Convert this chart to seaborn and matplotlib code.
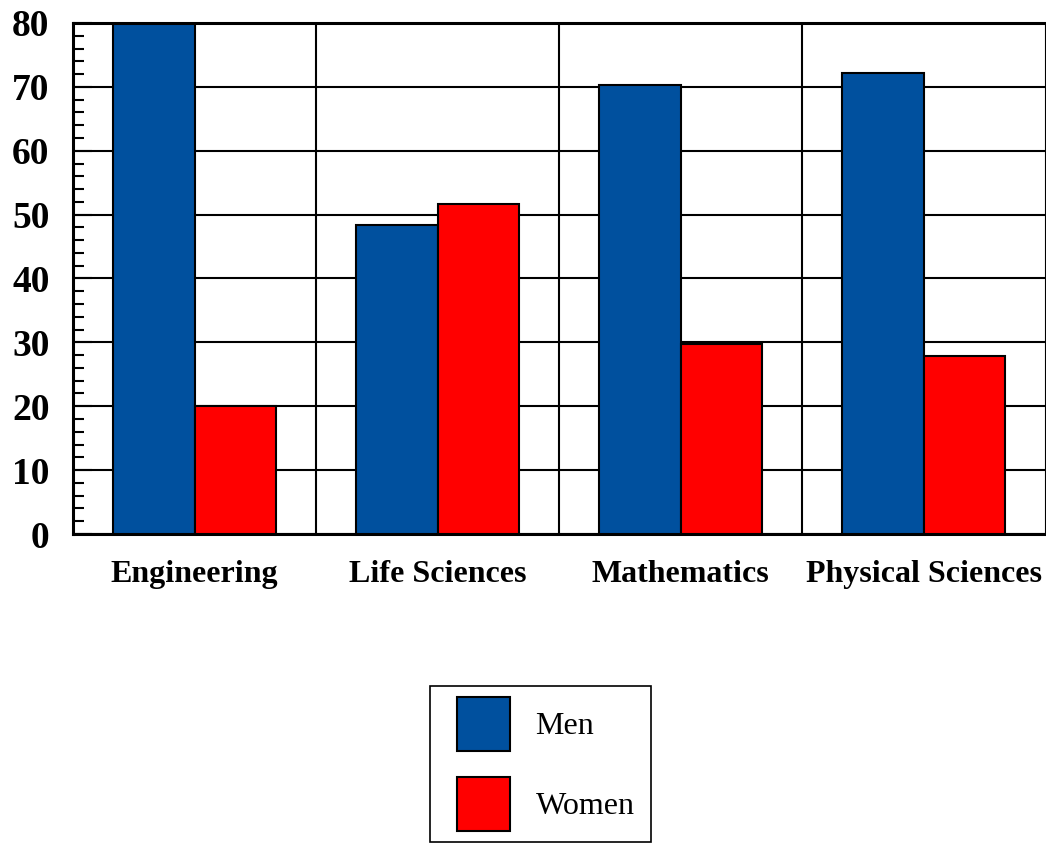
import matplotlib
matplotlib.use("Agg")
import matplotlib.pyplot as plt
import seaborn as sns
import pandas as pd
from matplotlib.patches import Patch, Rectangle
from matplotlib.legend_handler import HandlerPatch
from matplotlib.ticker import MultipleLocator, FixedLocator

# Share of degrees (%) by field and gender
fields = ["Engineering", "Life Sciences", "Mathematics", "Physical Sciences"]
men = [79.8, 48.4, 70.3, 72.2]
women = [20.1, 51.6, 29.7, 27.8]
groups = ["Men", "Women"]
colors = ["#00509e", "#ff0000"]
y_ticks = [0, 10, 20, 30, 40, 50, 60, 70, 80]

df = pd.DataFrame({
    "Field": fields * 2,
    "Share": men + women,
    "Gender": [groups[0]] * len(fields) + [groups[1]] * len(fields),
})

sns.set_style("white")
plt.rcParams["font.family"] = ["Liberation Serif", "DejaVu Serif"]
plt.rcParams["text.color"] = "black"
plt.rcParams["xtick.color"] = "black"
plt.rcParams["ytick.color"] = "black"
plt.rcParams["axes.labelcolor"] = "black"

fig = plt.figure(figsize=(10.46, 8.46), dpi=100)
ax = fig.add_axes([73 / 1046, 1 - 534 / 846, 972 / 1046, 511 / 846])

sns.barplot(data=df, x="Field", y="Share", hue="Gender", order=fields,
            hue_order=groups, palette=colors, saturation=1, width=0.67,
            errorbar=None, edgecolor="black", linewidth=1.5, legend=False,
            ax=ax, zorder=3)

ax.set_ylim(0, 80)
ax.set_xlim(-0.5, len(fields) - 0.5)
ax.set_xlabel("")
ax.set_ylabel("")

# y axis: majors every 10, minors every 2, ticks pointing inward
ax.yaxis.set_major_locator(FixedLocator(y_ticks))
ax.yaxis.set_minor_locator(MultipleLocator(2))
ax.set_yticklabels([str(v) for v in y_ticks], fontsize=27, fontweight="bold",
                   color="black")
ax.tick_params(axis="y", which="major", direction="in", length=14, width=1.5,
               pad=17, left=True, color="black")
ax.tick_params(axis="y", which="minor", direction="in", length=8, width=1.5,
               left=True, color="black")

# x axis: category labels, separators between categories
ax.xaxis.set_minor_locator(FixedLocator([0.5, 1.5, 2.5]))
ax.tick_params(axis="x", which="both", length=0, pad=19)
for lbl in ax.get_xticklabels():
    lbl.set_fontsize(23)
    lbl.set_fontweight("bold")
    lbl.set_color("black")

ax.grid(axis="y", which="major", color="black", linewidth=1.5, zorder=0)
ax.grid(axis="x", which="minor", color="black", linewidth=1.5, zorder=0)
ax.grid(axis="y", which="minor", visible=False)
ax.set_axisbelow(True)

for side in ["left", "top", "bottom"]:
    ax.spines[side].set_visible(True)
    ax.spines[side].set_color("black")
    ax.spines[side].set_linewidth(2.2)
ax.spines["right"].set_visible(True)
ax.spines["right"].set_color("black")
ax.spines["right"].set_linewidth(0.8)


def square_patch(legend, orig_handle, xdescent, ydescent, width, height, fontsize):
    # square swatch at the right of the handle box, nudged down to the text
    side = height + ydescent
    shift = 4.0
    return Rectangle((-xdescent + width - side, -ydescent - shift), side, side)


handles = [Patch(facecolor=c, edgecolor="black", linewidth=1.5) for c in colors]
leg = fig.legend(handles, groups, loc="upper left",
                 bbox_to_anchor=(430 / 1046, 1 - 686 / 846),
                 bbox_transform=fig.transFigure, borderaxespad=0,
                 fontsize=23, handlelength=2.0, handleheight=1.69,
                 handletextpad=0.78, labelspacing=1.15, borderpad=0.52,
                 fancybox=False, frameon=True, framealpha=1,
                 handler_map={Patch: HandlerPatch(patch_func=square_patch)})
leg.get_frame().set_edgecolor("black")
leg.get_frame().set_linewidth(1.2)

fig.savefig("out.png", dpi=100, facecolor="white")
